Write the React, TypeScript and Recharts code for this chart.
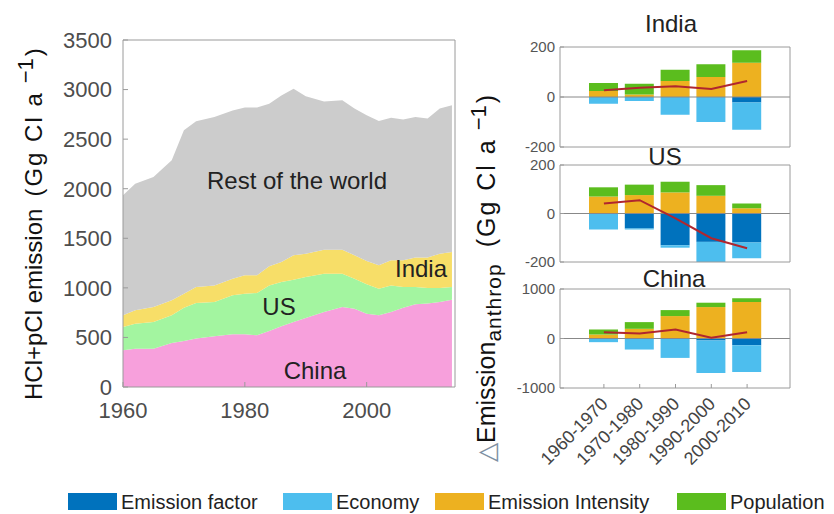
import React from 'react';
import { ComposedChart, Area, Bar, Line, XAxis, YAxis, ReferenceLine } from 'recharts';

// ---- Left chart: stacked emissions by region (Gg Cl a-1) ----
const years = [1960, 1962, 1965, 1968, 1970, 1972, 1975, 1978, 1980, 1982, 1984, 1986, 1988, 1990, 1993, 1996, 1998, 2000, 2002, 2004, 2006, 2008, 2010, 2012, 2014];
const china = [370, 387, 387, 444, 464, 488, 511, 531, 531, 521, 565, 612, 656, 696, 757, 807, 790, 740, 723, 757, 800, 834, 841, 857, 881];
const us = [235, 252, 269, 279, 336, 359, 346, 394, 410, 427, 460, 447, 427, 414, 386, 336, 303, 296, 269, 268, 209, 175, 158, 142, 128];
const india = [118, 134, 151, 151, 141, 162, 168, 168, 185, 178, 192, 202, 245, 235, 242, 242, 235, 235, 235, 253, 269, 296, 306, 346, 353];
const rest = [1210, 1278, 1311, 1412, 1648, 1671, 1698, 1697, 1692, 1692, 1641, 1679, 1681, 1587, 1495, 1507, 1480, 1469, 1456, 1439, 1419, 1418, 1402, 1463, 1479];
const yearTicks = [1960, 1980, 2000];
const emissionTicks = [0, 500, 1000, 1500, 2000, 2500, 3000, 3500];

// ---- Right panels: decomposition of emission change ----
const periods = ['1960-1970', '1970-1980', '1980-1990', '1990-2000', '2000-2010'];

const indiaFactor = [0, 0, 0, 0, -22];
const indiaEconomy = [-27, -16, -71, -100, -109];
const indiaIntensity = [24, 10, 64, 80, 137];
const indiaPopulation = [32, 43, 45, 51, 50];
const indiaNet = [27, 37, 43, 32, 64];

const usFactor = [0, -62, -131, -117, -120];
const usEconomy = [-66, -4, -10, -83, -65];
const usIntensity = [70, 76, 87, 73, 22];
const usPopulation = [38, 43, 44, 44, 19];
const usNet = [41, 55, -20, -102, -143];

const chinaFactor = [0, 0, 0, -40, -135];
const chinaEconomy = [-74, -223, -392, -656, -541];
const chinaIntensity = [81, 196, 453, 635, 736];
const chinaPopulation = [101, 135, 121, 88, 75];
const chinaNet = [128, 101, 182, 14, 128];

const smallTicks = [-200, 0, 200];
const bigTicks = [-1000, 0, 1000];

const COLORS = {
  factor: '#0072bd',
  economy: '#4dbeee',
  intensity: '#edb120',
  population: '#5bbd1e',
  net: '#b0262e',
  rest: '#cccccc',
  china: '#f7a0dc',
  us: '#a3f5a0',
  india: '#f7de68',
};

const areaData = years.map((year, i) => ({ year, china: china[i], us: us[i], india: india[i], rest: rest[i] }));

const makePanel = (f: number[], e: number[], it: number[], p: number[], n: number[]) =>
  periods.map((period, i) => ({ period, factor: f[i], economy: e[i], intensity: it[i], population: p[i], net: n[i] }));

const indiaData = makePanel(indiaFactor, indiaEconomy, indiaIntensity, indiaPopulation, indiaNet);
const usData = makePanel(usFactor, usEconomy, usIntensity, usPopulation, usNet);
const chinaData = makePanel(chinaFactor, chinaEconomy, chinaIntensity, chinaPopulation, chinaNet);

const AXIS = '#9a9a9a';
const FONT = '"Liberation Sans", Arial, Helvetica, sans-serif';

const RotTick = (props: any) => {
  const { x, y, payload } = props;
  return (
    <text x={x + 5} y={y} transform={`rotate(-45 ${x + 5} ${y})`} textAnchor="end" fontSize={18} fill="#444">
      {payload.value}
    </text>
  );
};

type PanelProps = {
  top: number;
  height: number;
  marginTop: number;
  marginBottom: number;
  data: any[];
  domain: [number, number];
  ticks: number[];
  showX: boolean;
};

function Panel({ top, height, marginTop, marginBottom, data, domain, ticks, showX }: PanelProps) {
  return (
    <div style={{ position: 'absolute', left: 500, top }}>
      <ComposedChart
        width={300}
        height={height}
        data={data}
        stackOffset="sign"
        margin={{ top: marginTop, right: 9, bottom: marginBottom, left: 0 }}
      >
        <XAxis
          dataKey="period"
          padding={{ left: 26, right: 25 }}
          stroke={AXIS}
          tickSize={-4}
          tickMargin={21}
          interval={0}
          tick={showX ? <RotTick /> : false}
          height={showX ? 80 : 1}
        />
        <XAxis
          xAxisId="top"
          orientation="top"
          dataKey="period"
          padding={{ left: 26, right: 25 }}
          stroke={AXIS}
          tickSize={-4}
          interval={0}
          tick={false}
          height={1}
        />
        <YAxis
          domain={domain}
          ticks={ticks}
          allowDataOverflow
          interval={0}
          width={60}
          stroke={AXIS}
          tickSize={-4}
          tickMargin={9}
          tick={{ fontSize: 15, fill: '#555' }}
        />
        <YAxis
          yAxisId="r"
          orientation="right"
          domain={domain}
          ticks={ticks}
          allowDataOverflow
          interval={0}
          width={1}
          stroke={AXIS}
          tickSize={-4}
          tick={false}
        />
        <ReferenceLine y={0} stroke="#888" strokeWidth={1} />
        <Bar dataKey="factor" stackId="s" fill={COLORS.factor} barSize={29} isAnimationActive={false} />
        <Bar dataKey="economy" stackId="s" fill={COLORS.economy} barSize={29} isAnimationActive={false} />
        <Bar dataKey="intensity" stackId="s" fill={COLORS.intensity} barSize={29} isAnimationActive={false} />
        <Bar dataKey="population" stackId="s" fill={COLORS.population} barSize={29} isAnimationActive={false} />
        <Line dataKey="net" stroke={COLORS.net} strokeWidth={2} dot={false} type="linear" isAnimationActive={false} />
      </ComposedChart>
    </div>
  );
}

const legendItems = [
  { label: 'Emission factor', color: COLORS.factor, x: 68 },
  { label: 'Economy', color: COLORS.economy, x: 283 },
  { label: 'Emission Intensity', color: COLORS.intensity, x: 435 },
  { label: 'Population', color: COLORS.population, x: 677 },
];

export default function App() {
  return (
    <div style={{ position: 'relative', width: 834, height: 514, background: '#fff', fontFamily: FONT, overflow: 'hidden' }}>
      <style>{'body{margin:0}'}</style>
      <div style={{ position: 'absolute', left: 0, top: 0 }}>
        <ComposedChart width={470} height={430} data={areaData} margin={{ top: 39, right: 14, bottom: 13, left: 53 }}>
          <XAxis
            dataKey="year"
            type="number"
            domain={[1960, 2014.5]}
            ticks={yearTicks}
            allowDataOverflow
            stroke={AXIS}
            tickSize={-5}
            tickMargin={20}
            height={30}
            tick={{ fontSize: 22, fill: '#4d4d4d' }}
          />
          <XAxis
            xAxisId="top"
            orientation="top"
            dataKey="year"
            type="number"
            domain={[1960, 2014.5]}
            ticks={yearTicks}
            allowDataOverflow
            stroke={AXIS}
            tickSize={-5}
            tick={false}
            height={1}
          />
          <YAxis
            domain={[0, 3500]}
            ticks={emissionTicks}
            interval={0}
            width={70}
            stroke={AXIS}
            tickSize={-5}
            tickMargin={16}
            tick={{ fontSize: 22, fill: '#4d4d4d' }}
          />
          <YAxis
            yAxisId="r"
            orientation="right"
            domain={[0, 3500]}
            ticks={emissionTicks}
            interval={0}
            width={1}
            stroke={AXIS}
            tickSize={-5}
            tick={false}
          />
          <Area dataKey="china" stackId="a" type="linear" fill={COLORS.china} fillOpacity={1} stroke="none" isAnimationActive={false} />
          <Area dataKey="us" stackId="a" type="linear" fill={COLORS.us} fillOpacity={1} stroke="none" isAnimationActive={false} />
          <Area dataKey="india" stackId="a" type="linear" fill={COLORS.india} fillOpacity={1} stroke="none" isAnimationActive={false} />
          <Area dataKey="rest" stackId="a" type="linear" fill={COLORS.rest} fillOpacity={1} stroke="none" isAnimationActive={false} />
        </ComposedChart>
      </div>

      <Panel top={0} height={158} marginTop={46} marginBottom={10} data={indiaData} domain={[-200, 200]} ticks={smallTicks} showX={false} />
      <Panel top={150} height={123} marginTop={14} marginBottom={10} data={usData} domain={[-200, 200]} ticks={smallTicks} showX={false} />
      <Panel top={270} height={198} marginTop={18} marginBottom={0} data={chinaData} domain={[-1000, 1000]} ticks={bigTicks} showX={true} />

      <svg width={834} height={514} style={{ position: 'absolute', left: 0, top: 0, pointerEvents: 'none' }}>
        {/* area labels */}
        <g fontSize={24} fill="#222" textAnchor="middle">
          <text x={297} y={189}>Rest of the world</text>
          <text x={421} y={277}>India</text>
          <text x={279} y={315}>US</text>
          <text x={315} y={379}>China</text>
        </g>
        {/* panel titles */}
        <g fontSize={24} fill="#222" textAnchor="middle">
          <text x={671} y={32}>India</text>
          <text x={665} y={165}>US</text>
          <text x={674} y={287}>China</text>
        </g>
        {/* left y label */}
        <text transform="translate(42,400) rotate(-90)" fontSize={24} fill="#111" style={{ whiteSpace: 'pre' }}>
          <tspan>HCl+pCl emission</tspan>
          <tspan dx={12} letterSpacing={2}>(Gg Cl a</tspan>
          <tspan dx={8} dy={-9} fontSize={22}>−1</tspan>
          <tspan dy={9} dx={2}>)</tspan>
        </text>
        {/* right y label */}
        <text transform="translate(495,462) rotate(-90)" fontSize={25} fill="#111" style={{ whiteSpace: 'pre' }}>
          <tspan fill="#7d8fa3">△</tspan>
          <tspan>Emission</tspan>
          <tspan dy={6} fontSize={21} letterSpacing={1}>anthrop</tspan>
          <tspan dy={-6} dx={16} letterSpacing={2}>(Gg Cl a</tspan>
          <tspan dx={8} dy={-9} fontSize={22}>−1</tspan>
          <tspan dy={9} dx={2}>)</tspan>
        </text>
        {/* legend */}
        {legendItems.map((it) => (
          <g key={it.label}>
            <rect x={it.x} y={493} width={49} height={17} fill={it.color} />
            <text x={it.x + 53} y={509} fontSize={20} fill="#222">{it.label}</text>
          </g>
        ))}
      </svg>
    </div>
  );
}
